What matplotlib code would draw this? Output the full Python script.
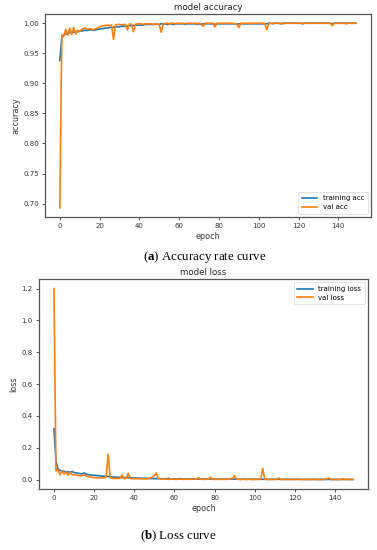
import matplotlib
matplotlib.use("Agg")
import matplotlib.pyplot as plt

epochs = list(range(150))

train_acc = [
    0.938, 0.976, 0.980, 0.982, 0.983, 0.984, 0.985, 0.985, 0.986, 0.986,
    0.987, 0.987, 0.988, 0.988, 0.988, 0.989, 0.989, 0.988, 0.989, 0.990,
    0.990, 0.991, 0.991, 0.992, 0.992, 0.993, 0.993, 0.993, 0.994, 0.994,
    0.994, 0.995, 0.995, 0.995, 0.995, 0.996, 0.996, 0.996, 0.996, 0.997,
    0.997, 0.997, 0.997, 0.998, 0.998, 0.998, 0.998, 0.998, 0.998, 0.999,
    0.998, 0.999, 0.999, 0.999, 0.998, 0.999, 0.999, 0.998, 0.999, 0.999,
    0.999, 0.999, 0.999, 0.998, 0.999, 0.999, 0.999, 0.999, 0.999, 0.998,
    0.999, 0.998, 0.999, 0.999, 0.999, 0.999, 0.999, 0.999, 0.998, 0.999,
    0.999, 0.999, 0.999, 0.999, 0.999, 0.999, 0.999, 0.999, 0.999, 0.998,
    0.999, 0.999, 0.999, 0.999, 0.999, 0.999, 0.999, 0.999, 0.999, 0.999,
    0.999, 0.999, 0.999, 0.999, 0.999, 1.000, 1.000, 0.999, 1.000, 1.000,
    1.000, 0.999, 1.000, 1.000, 1.000, 1.000, 1.000, 1.000, 1.000, 1.000,
    1.000, 1.000, 0.999, 1.000, 1.000, 1.000, 1.000, 1.000, 1.000, 1.000,
    1.000, 1.000, 1.000, 1.000, 1.000, 1.000, 1.000, 0.999, 1.000, 1.000,
    1.000, 1.000, 1.000, 1.000, 1.000, 1.000, 1.000, 1.000, 1.000, 1.000,
]

val_acc = [
    0.693, 0.981, 0.978, 0.990, 0.980, 0.992, 0.981, 0.993, 0.982, 0.988,
    0.986, 0.990, 0.991, 0.992, 0.990, 0.991, 0.990, 0.989, 0.991, 0.992,
    0.994, 0.995, 0.996, 0.996, 0.997, 0.996, 0.997, 0.973, 0.997, 0.998,
    0.998, 0.997, 0.998, 0.998, 0.989, 0.999, 0.998, 0.986, 0.998, 0.999,
    0.999, 0.999, 0.998, 0.999, 0.999, 0.999, 0.999, 0.998, 0.999, 0.999,
    0.997, 0.985, 0.999, 1.000, 1.000, 0.999, 1.000, 1.000, 0.999, 1.000,
    1.000, 1.000, 1.000, 0.999, 1.000, 1.000, 1.000, 1.000, 1.000, 0.999,
    1.000, 0.999, 0.995, 1.000, 1.000, 1.000, 1.000, 1.000, 0.994, 1.000,
    1.000, 1.000, 1.000, 1.000, 1.000, 1.000, 1.000, 1.000, 0.999, 0.999,
    0.993, 1.000, 1.000, 1.000, 1.000, 1.000, 1.000, 1.000, 1.000, 1.000,
    1.000, 1.000, 1.000, 1.000, 0.989, 0.999, 1.000, 1.000, 1.000, 1.000,
    1.000, 1.000, 0.999, 1.000, 1.000, 1.000, 1.000, 1.000, 1.000, 1.000,
    1.000, 1.000, 1.000, 1.000, 1.000, 1.000, 1.000, 1.000, 1.000, 1.000,
    1.000, 1.000, 1.000, 1.000, 1.000, 1.000, 1.000, 0.996, 1.000, 1.000,
    1.000, 1.000, 1.000, 1.000, 0.999, 1.000, 1.000, 1.000, 1.000, 1.000,
]

train_loss = [
    0.320, 0.120, 0.065, 0.058, 0.055, 0.052, 0.050, 0.048, 0.047, 0.050,
    0.045, 0.042, 0.040, 0.038, 0.036, 0.042, 0.035, 0.032, 0.030, 0.028,
    0.027, 0.026, 0.025, 0.024, 0.022, 0.021, 0.020, 0.020, 0.018, 0.017,
    0.016, 0.015, 0.015, 0.014, 0.013, 0.013, 0.012, 0.012, 0.011, 0.011,
    0.010, 0.010, 0.009, 0.009, 0.008, 0.008, 0.008, 0.007, 0.007, 0.007,
    0.006, 0.006, 0.006, 0.006, 0.005, 0.006, 0.005, 0.008, 0.005, 0.005,
    0.005, 0.004, 0.005, 0.006, 0.004, 0.004, 0.005, 0.004, 0.004, 0.005,
    0.004, 0.005, 0.004, 0.004, 0.003, 0.004, 0.004, 0.003, 0.005, 0.003,
    0.003, 0.004, 0.003, 0.003, 0.003, 0.003, 0.004, 0.003, 0.003, 0.004,
    0.003, 0.003, 0.003, 0.002, 0.003, 0.003, 0.002, 0.003, 0.002, 0.002,
    0.002, 0.003, 0.002, 0.002, 0.002, 0.002, 0.002, 0.002, 0.002, 0.002,
    0.002, 0.002, 0.002, 0.002, 0.002, 0.002, 0.002, 0.002, 0.002, 0.002,
    0.002, 0.002, 0.003, 0.001, 0.002, 0.001, 0.002, 0.001, 0.001, 0.002,
    0.001, 0.001, 0.001, 0.001, 0.001, 0.001, 0.001, 0.002, 0.001, 0.001,
    0.001, 0.001, 0.001, 0.001, 0.001, 0.001, 0.001, 0.001, 0.001, 0.001,
]

val_loss = [
    1.200, 0.055, 0.060, 0.030, 0.055, 0.035, 0.050, 0.028, 0.045, 0.030,
    0.030, 0.028, 0.027, 0.025, 0.025, 0.030, 0.022, 0.020, 0.018, 0.015,
    0.012, 0.012, 0.010, 0.011, 0.010, 0.012, 0.015, 0.160, 0.012, 0.008,
    0.007, 0.008, 0.007, 0.009, 0.030, 0.006, 0.008, 0.040, 0.008, 0.006,
    0.005, 0.006, 0.006, 0.005, 0.004, 0.005, 0.005, 0.006, 0.010, 0.015,
    0.025, 0.042, 0.008, 0.003, 0.003, 0.004, 0.003, 0.002, 0.004, 0.003,
    0.002, 0.002, 0.003, 0.003, 0.002, 0.002, 0.002, 0.003, 0.002, 0.003,
    0.002, 0.004, 0.012, 0.003, 0.002, 0.002, 0.002, 0.003, 0.015, 0.002,
    0.002, 0.002, 0.002, 0.002, 0.002, 0.002, 0.002, 0.002, 0.005, 0.008,
    0.025, 0.003, 0.002, 0.001, 0.002, 0.001, 0.001, 0.002, 0.001, 0.001,
    0.001, 0.001, 0.002, 0.004, 0.070, 0.003, 0.001, 0.001, 0.001, 0.001,
    0.001, 0.002, 0.010, 0.001, 0.001, 0.001, 0.001, 0.001, 0.001, 0.001,
    0.001, 0.001, 0.001, 0.001, 0.001, 0.001, 0.001, 0.001, 0.001, 0.001,
    0.001, 0.001, 0.001, 0.001, 0.001, 0.002, 0.004, 0.010, 0.002, 0.001,
    0.001, 0.001, 0.001, 0.001, 0.006, 0.002, 0.001, 0.001, 0.001, 0.001,
]

W, H = 377, 550
fig = plt.figure(figsize=(W / 100, H / 100), dpi=100)

plt.rcParams['mathtext.fontset'] = 'custom'
plt.rcParams['mathtext.rm'] = 'Liberation Serif'
plt.rcParams['mathtext.bf'] = 'Liberation Serif:bold'

TICK_FS = 5.0
LAB_FS = 5.8
TITLE_FS = 6.2
SPINE_C = '#555555'
BLUE = '#1f77b4'
ORANGE = '#ff7f0e'


def make_axes(l, r, t, b):
    return fig.add_axes([l / W, 1 - b / H, (r - l) / W, (b - t) / H])


def style(ax):
    for s in ax.spines.values():
        s.set_color(SPINE_C)
        s.set_linewidth(0.9)
    ax.tick_params(labelsize=TICK_FS, length=2.5, width=0.6, pad=2,
                   colors='#333333')


ax1 = make_axes(45, 371, 14, 217)
ax1.plot(epochs, train_acc, color=BLUE, lw=1.2, label='training acc')
ax1.plot(epochs, val_acc, color=ORANGE, lw=1.2, label='val acc')
ax1.set_title('model accuracy', fontsize=TITLE_FS, pad=3, color='#222222')
ax1.set_xlabel('epoch', fontsize=LAB_FS, labelpad=2, color='#333333')
ax1.set_ylabel('accuracy', fontsize=LAB_FS, labelpad=2, color='#333333')
ax1.set_xticks(range(0, 141, 20))
ax1.set_yticks([0.70, 0.75, 0.80, 0.85, 0.90, 0.95, 1.00])
ax1.set_yticklabels(['%.2f' % v for v in [0.70, 0.75, 0.80, 0.85, 0.90, 0.95, 1.00]])
style(ax1)
leg1 = ax1.legend(loc='lower right', fontsize=TICK_FS, frameon=True,
                  handlelength=2.2, borderpad=0.5, labelspacing=0.4)
leg1.get_frame().set_linewidth(0.5)

ax2 = make_axes(39, 368, 279, 489)
ax2.plot(epochs, train_loss, color=BLUE, lw=1.2, label='training loss')
ax2.plot(epochs, val_loss, color=ORANGE, lw=1.2, label='val loss')
ax2.set_title('model loss', fontsize=TITLE_FS, pad=3, color='#222222')
ax2.set_xlabel('epoch', fontsize=LAB_FS, labelpad=2, color='#333333')
ax2.set_ylabel('loss', fontsize=LAB_FS, labelpad=2, color='#333333')
ax2.set_xticks(range(0, 141, 20))
ax2.set_yticks([0.0, 0.2, 0.4, 0.6, 0.8, 1.0, 1.2])
style(ax2)
leg2 = ax2.legend(loc='upper right', fontsize=TICK_FS, frameon=True,
                  handlelength=2.2, borderpad=0.5, labelspacing=0.4)
leg2.get_frame().set_linewidth(0.5)

fig.text(205 / W, 1 - 257 / H, r'($\mathbf{a}$) Accuracy rate curve',
         ha='center', va='center', fontsize=9.3, family='Liberation Serif')
fig.text(178 / W, 1 - 536 / H, r'($\mathbf{b}$) Loss curve',
         ha='center', va='center', fontsize=9.3, family='Liberation Serif')

fig.savefig('out.png', dpi=100, facecolor='white')
